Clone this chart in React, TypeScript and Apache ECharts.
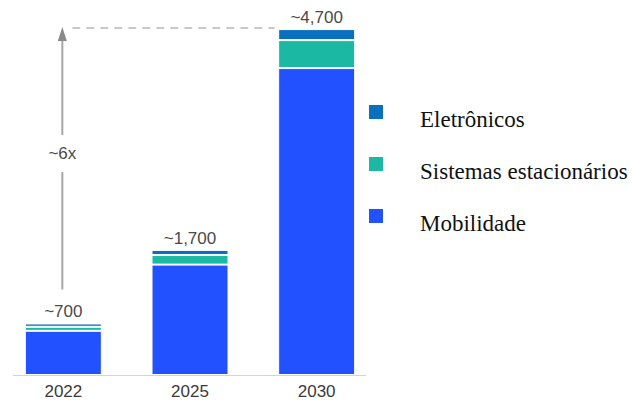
import React, { useEffect, useRef } from "react";
import * as echarts from "echarts";

const categories = ["2022", "2025", "2030"];
const mobilidade = [600, 1500, 4170];
const estacionarios = [55, 130, 380];
const eletronicos = [45, 70, 150];
const totals = [700, 1700, 4700];
const growthLabel = "~6x";

const COLORS = {
  mob: "#2251ff",
  est: "#1bb8a3",
  ele: "#0a6fbf",
};

export default function App() {
  const ref = useRef<HTMLDivElement>(null);

  useEffect(() => {
    if (!ref.current) return;
    const chart = echarts.init(ref.current, null, { renderer: "svg" });
    const barStyle = (c: string) => ({ color: c, borderColor: "#ffffff", borderWidth: 1 });
    const option: any = {
      animation: false,
      grid: { left: 0, width: 380, top: 7, bottom: 24 },
      xAxis: {
        type: "category",
        data: categories,
        axisLine: { show: false },
        axisTick: { show: false },
        axisLabel: {
          fontFamily: "Liberation Sans",
          fontSize: 17,
          color: "#3a3a3a",
          margin: 8,
        },
      },
      yAxis: { type: "value", min: 0, max: 5000, show: false, splitLine: { show: false } },
      legend: {
        orient: "vertical",
        left: 367,
        top: 103,
        padding: 0,
        itemWidth: 16,
        itemHeight: 30,
        itemGap: 20,
        icon: "path://M0,0h16v16h-16zM0,30h0.01v0.01h-0.01z",
        data: ["Eletrônicos", "Sistemas estacionários", "Mobilidade"],
        textStyle: {
          fontFamily: "Liberation Serif",
          fontSize: 23,
          color: "#111",
          padding: [0, 0, 0, 31],
        },
      },
      series: [
        {
          name: "Mobilidade",
          type: "bar",
          stack: "t",
          barWidth: 77,
          data: mobilidade,
          itemStyle: barStyle(COLORS.mob),
        },
        {
          name: "Sistemas estacionários",
          type: "bar",
          stack: "t",
          data: estacionarios,
          itemStyle: barStyle(COLORS.est),
        },
        {
          name: "Eletrônicos",
          type: "bar",
          stack: "t",
          data: eletronicos,
          itemStyle: barStyle(COLORS.ele),
          label: {
            show: true,
            position: "top",
            distance: 3,
            fontFamily: "Liberation Sans",
            fontSize: 17,
            color: "#4a4a4a",
            formatter: (p: any) => "~" + totals[p.dataIndex].toLocaleString("en-US"),
          },
        },
      ],
    };
    chart.setOption(option);

    const p0 = chart.convertToPixel({ xAxisIndex: 0, yAxisIndex: 0 }, [0, totals[2]]) as number[];
    const p2 = chart.convertToPixel({ xAxisIndex: 0, yAxisIndex: 0 }, [2, totals[2]]) as number[];
    const pLow = chart.convertToPixel({ xAxisIndex: 0, yAxisIndex: 0 }, [0, totals[0]]) as number[];
    const base = chart.convertToPixel({ xAxisIndex: 0, yAxisIndex: 0 }, [0, 0]) as number[];
    const x0 = p0[0] - 1;
    const yTop = p0[1] - 2;
    const yLow = pLow[1] - 34;
    const yText = yTop + (yLow - yTop) * 0.48;
    const gray = "#a6a6a6";
    chart.setOption({
      graphic: [
        {
          type: "line",
          shape: { x1: 13, y1: base[1] + 0.5, x2: 366, y2: base[1] + 0.5 },
          style: { stroke: "#d4d4d4", lineWidth: 1 },
        },
        {
          type: "line",
          shape: { x1: x0 + 10, y1: yTop + 1, x2: p2[0] - 38 - 4, y2: yTop + 1 },
          style: { stroke: "#b8b8b8", lineWidth: 1.5, lineDash: [8, 6] },
        },
        {
          type: "line",
          shape: { x1: x0, y1: yTop + 10, x2: x0, y2: yText - 18 },
          style: { stroke: gray, lineWidth: 2 },
        },
        {
          type: "line",
          shape: { x1: x0, y1: yText + 19, x2: x0, y2: yLow },
          style: { stroke: gray, lineWidth: 2 },
        },
        {
          type: "polygon",
          shape: { points: [[x0, yTop], [x0 - 4.5, yTop + 14], [x0 + 4.5, yTop + 14]] },
          style: { fill: "#8a8a8a" },
        },
        {
          type: "text",
          x: x0,
          y: yText,
          style: {
            text: growthLabel,
            fontFamily: "Liberation Sans",
            fontSize: 17,
            fill: "#4a4a4a",
            align: "center",
            verticalAlign: "middle",
          },
        },
      ],
    });

    return () => chart.dispose();
  }, []);

  return (
    <div
      ref={ref}
      style={{ position: "fixed", left: 0, top: 0, width: 632, height: 400, background: "#fff" }}
    />
  );
}
